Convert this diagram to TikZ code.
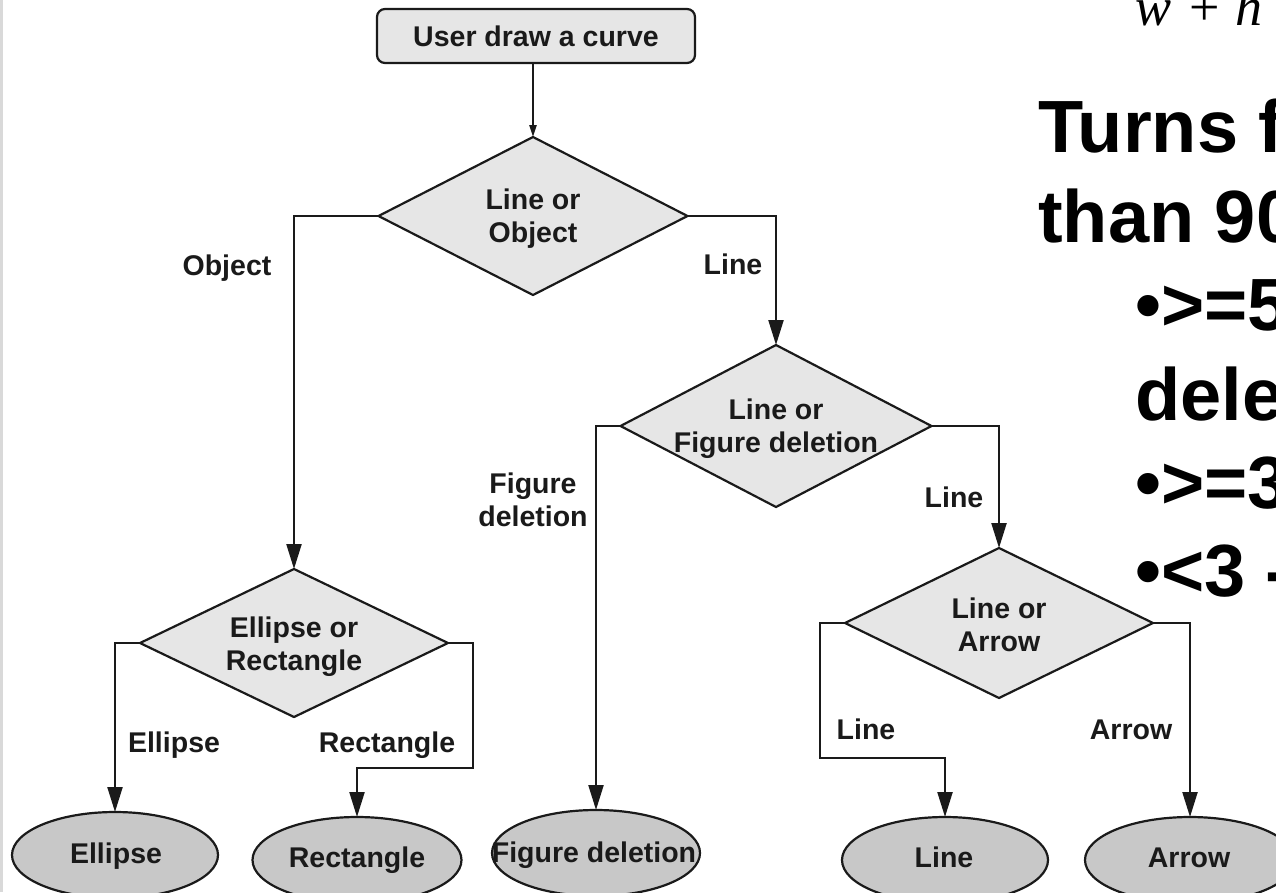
\documentclass[tikz,border=0pt]{standalone}
\usepackage{fontspec}
\setmainfont{Liberation Sans}
\newfontfamily\serifx{Liberation Serif}
\usetikzlibrary{shapes.geometric,arrows.meta}
\definecolor{dfill}{HTML}{E6E6E6}
\definecolor{efill}{HTML}{C8C8C8}
\definecolor{ink}{HTML}{1A1A1A}
\begin{document}
\begin{tikzpicture}[x=1pt,y=-1pt,
  dtext/.style={font=\fontsize{28.5}{33}\selectfont\bfseries, text=ink, align=center, inner sep=0pt},
  dia/.style={diamond, draw=ink, fill=dfill, line width=2.2pt, inner sep=0pt, outer sep=0pt},
  ell/.style={ellipse, draw=ink, fill=efill, line width=2.2pt, inner sep=0pt, outer sep=0pt, minimum height=86pt},
  conn/.style={draw=ink, line width=2.2pt, -{Triangle[length=25pt,width=15pt]}},
  lab/.style={dtext, anchor=base},
  big/.style={font=\fontsize{74}{89}\selectfont\bfseries, text=black, anchor=base west, inner sep=0pt}
]
\useasboundingbox (0,0) rectangle (1276,892);
\clip (0,0) rectangle (1276,892);
\fill[white] (0,0) rectangle (1276,892);
\fill[gray!30] (0,0) rectangle (3,892);

% top box
\node[draw=ink, fill=dfill, rounded corners=8pt, line width=2.2pt, minimum width=318pt, minimum height=54pt, dtext] (top) at (536,36) {User draw a curve};

% diamonds
\node[dia, minimum width=309pt, minimum height=158pt] (d1) at (533,216) {};
\node[dtext] (t1) at (533,219) {Line or\\Object};
\node[dia, minimum width=311pt, minimum height=162pt] (d2) at (776,426) {};
\node[dtext] (t2) at (776,429) {Line or\\Figure deletion};
\node[dia, minimum width=308pt, minimum height=150pt] (d3) at (999,623) {};
\node[dtext] (t3) at (999,625) {Line or\\Arrow};
\node[dia, minimum width=308pt, minimum height=148pt] (d4) at (294,643) {};
\node[dtext] (t4) at (294,647) {Ellipse or\\Rectangle};

% ellipses
\node[ell, minimum width=206pt] (eell) at (115,855) {};
\node[lab] (teell) at (116,863) {Ellipse};
\node[ell, minimum width=209pt] (erect) at (357,860) {};
\node[lab] (terect) at (357,867) {Rectangle};
\node[ell, minimum width=208pt] (efig) at (596,853) {};
\node[lab] (tefig) at (594,862) {Figure deletion};
\node[ell, minimum width=206pt] (eline) at (945,860) {};
\node[lab] (teline) at (944,867) {Line};
\node[ell, minimum width=210pt] (earr) at (1190,860) {};
\node[lab] (tearr) at (1189,867) {Arrow};

% connectors
\draw[conn, -{Triangle[length=12pt,width=7pt]}] (top.south -| d1.north) -- (d1.north);
\draw[conn] (d1.west) -| (d4.north);
\draw[conn] (d1.east) -| (d2.north);
\draw[conn] (d2.west) -| (efig.north);
\draw[conn] (d2.east) -| (d3.north);
\coordinate (b3) at (820,758);
\draw[conn] (d3.west) -| (b3) -| (eline.north);
\draw[conn] (d3.east) -| (earr.north);
\coordinate (b4) at (473,768);
\draw[conn] (d4.east) -| (b4) -| (erect.north);
\draw[conn] (d4.west) -| (eell.north);

% edge labels
\node[lab] (lobj) at (227,275) {Object};
\node[lab] (lline1) at (733,274) {Line};
\node[dtext] (lfig) at (533,500) {Figure\\deletion};
\node[lab] (lline2) at (954,507) {Line};
\node[lab] (lline3) at (866,739) {Line};
\node[lab] (larr) at (1131,739) {Arrow};
\node[lab] (lell) at (174,752) {Ellipse};
\node[lab] (lrect) at (387,752) {Rectangle};

% slide text on the right
\node[anchor=base west, inner sep=0pt, font=\serifx\fontsize{54}{60}\selectfont] (wh) at (1135,25) {\itshape w\hspace{18pt}\upshape +\hspace{16pt}\itshape h};
\node[big] (r1) at (1038,152) {Turns f};
\node[big] (r2) at (1038,242) {than 90};
\node[big] (r3) at (1135,330) {•>=5};
\node[big] (r4) at (1135,420) {dele};
\node[big] (r5) at (1135,508) {•>=3};
\node[big] (r6) at (1135,596) {•<3 -};
\end{tikzpicture}
\end{document}
